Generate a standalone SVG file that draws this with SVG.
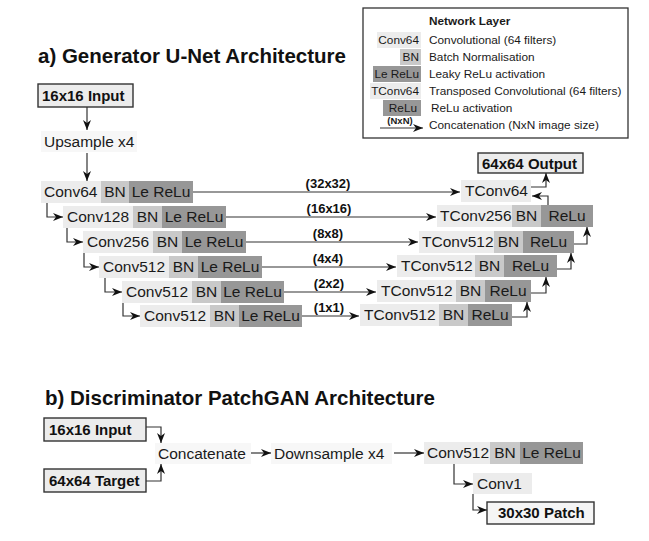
<svg xmlns="http://www.w3.org/2000/svg" width="649" height="541" viewBox="0 0 649 541">
<style>
text{font-family:"Liberation Sans",Arial,sans-serif;fill:#1a1a1a}
.t{font-size:20.5px;font-weight:bold;fill:#111}
.bx{font-size:15px;font-weight:bold;fill:#111}
.l{font-size:15.5px}
.m{font-size:15.5px;text-anchor:middle}
.sk{font-size:13px;font-weight:bold;text-anchor:middle;fill:#111}
.lg{font-size:11.8px}
.lgr{font-size:11.8px;text-anchor:end}
.c1{fill:#ececec}
.c2{fill:#c9c9c9}
.c3{fill:#979797}
.cb{fill:#f7f7f7}
.io{fill:#ececec;stroke:#333;stroke-width:1.4}
.ln{fill:none;stroke:#333;stroke-width:1.2}
</style>
<defs>
<marker id="ah" viewBox="0 0 10 8" refX="10" refY="4" markerWidth="11" markerHeight="8" markerUnits="userSpaceOnUse" orient="auto">
<path d="M0,0 L10,4 L0,8 L3,4 z" fill="#111"/>
</marker>
</defs>

<text class="t" x="38" y="63">a) Generator U-Net Architecture</text>
<text class="t" x="45" y="405">b) Discriminator PatchGAN Architecture</text>

<g id="legend">
<rect x="363" y="8" width="265" height="130" fill="#fff" stroke="#333" stroke-width="1.3"/>
<text class="lg" x="429" y="25" font-weight="bold">Network Layer</text>
<rect class="c1" x="377" y="32" width="44" height="16"/>
<text class="lgr" x="419" y="44">Conv64</text>
<text class="lg" x="429" y="44">Convolutional (64 filters)</text>
<rect class="c2" x="400" y="49" width="21" height="16"/>
<text class="lgr" x="419" y="61">BN</text>
<text class="lg" x="429" y="61">Batch Normalisation</text>
<rect class="c3" x="373" y="66" width="48" height="16"/>
<text class="lgr" x="419" y="78">Le ReLu</text>
<text class="lg" x="429" y="78">Leaky ReLu activation</text>
<rect class="c1" x="370" y="83" width="51" height="16"/>
<text class="lgr" x="419" y="95">TConv64</text>
<text class="lg" x="429" y="95">Transposed Convolutional (64 filters)</text>
<rect class="c3" x="383" y="100" width="38" height="16"/>
<text class="lgr" x="417" y="112">ReLu</text>
<text class="lg" x="431" y="112">ReLu activation</text>
<line class="ln" x1="380" y1="128" x2="423" y2="128" marker-end="url(#ah)"/>
<text x="400" y="124" font-size="9.5" font-weight="bold" text-anchor="middle">(NxN)</text>
<text class="lg" x="429" y="129">Concatenation (NxN image size)</text>
</g>

<g id="gen_input">
<rect class="io" x="38" y="84" width="95" height="23"/>
<text class="bx" x="42" y="101">16x16 Input</text>
</g>
<g id="upsample">
<rect class="cb" x="41" y="131" width="96" height="21"/>
<text class="l" x="44" y="147">Upsample x4</text>
</g>

<g id="enc1">
<rect class="c1" x="41" y="181" width="60" height="22"/><rect class="c2" x="101" y="181" width="28" height="22"/><rect class="c3" x="129" y="181" width="64" height="22"/>
<text class="l" x="44" y="197">Conv64</text><text class="m" x="115" y="197">BN</text><text class="m" x="161" y="197">Le ReLu</text>
</g>
<g id="enc2">
<rect class="c1" x="63" y="206" width="70" height="22"/><rect class="c2" x="133" y="206" width="29" height="22"/><rect class="c3" x="162" y="206" width="64" height="22"/>
<text class="l" x="67" y="222">Conv128</text><text class="m" x="147.5" y="222">BN</text><text class="m" x="194" y="222">Le ReLu</text>
</g>
<g id="enc3">
<rect class="c1" x="83" y="231" width="70" height="22"/><rect class="c2" x="153" y="231" width="29" height="22"/><rect class="c3" x="182" y="231" width="64" height="22"/>
<text class="l" x="87" y="247">Conv256</text><text class="m" x="167.5" y="247">BN</text><text class="m" x="214" y="247">Le ReLu</text>
</g>
<g id="enc4">
<rect class="c1" x="99" y="256" width="70" height="22"/><rect class="c2" x="169" y="256" width="29" height="22"/><rect class="c3" x="198" y="256" width="64" height="22"/>
<text class="l" x="103" y="272">Conv512</text><text class="m" x="183.5" y="272">BN</text><text class="m" x="230" y="272">Le ReLu</text>
</g>
<g id="enc5">
<rect class="c1" x="122" y="281" width="70" height="22"/><rect class="c2" x="192" y="281" width="29" height="22"/><rect class="c3" x="221" y="281" width="63" height="22"/>
<text class="l" x="126" y="297">Conv512</text><text class="m" x="206.5" y="297">BN</text><text class="m" x="252.5" y="297">Le ReLu</text>
</g>
<g id="enc6">
<rect class="c1" x="140" y="305" width="70" height="22"/><rect class="c2" x="210" y="305" width="29" height="22"/><rect class="c3" x="239" y="305" width="63" height="22"/>
<text class="l" x="144" y="321">Conv512</text><text class="m" x="224.5" y="321">BN</text><text class="m" x="270.5" y="321">Le ReLu</text>
</g>

<g id="dec1">
<rect class="c1" x="461" y="180" width="70" height="22"/>
<text class="l" x="465" y="196">TConv64</text>
</g>
<g id="dec2">
<rect class="c1" x="437" y="205" width="75" height="22"/><rect class="c2" x="512" y="205" width="29" height="22"/><rect class="c3" x="541" y="205" width="52" height="22"/>
<text class="l" x="440" y="221">TConv256</text><text class="m" x="526.5" y="221">BN</text><text class="m" x="567" y="221">ReLu</text>
</g>
<g id="dec3">
<rect class="c1" x="419" y="231" width="75" height="22"/><rect class="c2" x="494" y="231" width="29" height="22"/><rect class="c3" x="523" y="231" width="51" height="22"/>
<text class="l" x="422" y="247">TConv512</text><text class="m" x="508.5" y="247">BN</text><text class="m" x="548.5" y="247">ReLu</text>
</g>
<g id="dec4">
<rect class="c1" x="397" y="255" width="78" height="22"/><rect class="c2" x="475" y="255" width="29" height="22"/><rect class="c3" x="504" y="255" width="53" height="22"/>
<text class="l" x="401" y="271">TConv512</text><text class="m" x="489.5" y="271">BN</text><text class="m" x="530.5" y="271">ReLu</text>
</g>
<g id="dec5">
<rect class="c1" x="377" y="280" width="79" height="22"/><rect class="c2" x="456" y="280" width="29" height="22"/><rect class="c3" x="485" y="280" width="46" height="22"/>
<text class="l" x="381" y="296">TConv512</text><text class="m" x="470.5" y="296">BN</text><text class="m" x="508" y="296">ReLu</text>
</g>
<g id="dec6">
<rect class="c1" x="360" y="304" width="79" height="22"/><rect class="c2" x="439" y="304" width="29" height="22"/><rect class="c3" x="468" y="304" width="44" height="22"/>
<text class="l" x="364" y="320">TConv512</text><text class="m" x="453.5" y="320">BN</text><text class="m" x="490" y="320">ReLu</text>
</g>

<g id="gen_output">
<rect class="io" x="478" y="153" width="105" height="20"/>
<text class="bx" x="482" y="169">64x64 Output</text>
</g>

<g id="disc_input">
<rect class="io" x="44" y="418" width="102" height="23"/>
<text class="bx" x="49" y="435">16x16 Input</text>
</g>
<g id="disc_target">
<rect class="io" x="44" y="469" width="102" height="23"/>
<text class="bx" x="49" y="486">64x64 Target</text>
</g>
<g id="concat">
<rect class="cb" x="155" y="443" width="96" height="21"/>
<text class="l" x="158" y="459">Concatenate</text>
</g>
<g id="downsample">
<rect class="cb" x="271" y="443" width="121" height="21"/>
<text class="l" x="274" y="459">Downsample x4</text>
</g>
<g id="disc_conv512">
<rect class="c1" x="424" y="442" width="66" height="22"/><rect class="c2" x="490" y="442" width="30" height="22"/><rect class="c3" x="520" y="442" width="63" height="22"/>
<text class="l" x="427" y="458">Conv512</text><text class="m" x="505" y="458">BN</text><text class="m" x="551.5" y="458">Le ReLu</text>
</g>
<g id="conv1">
<rect class="c1" x="473" y="473" width="59" height="21"/>
<text class="l" x="477" y="489">Conv1</text>
</g>
<g id="patch">
<rect class="io" x="487" y="502" width="107" height="22" style="fill:#f5f5f5"/>
<text class="bx" x="498" y="518">30x30 Patch</text>
</g>

<g id="connectors">
<path class="ln" d="M87,107 V130" marker-end="url(#ah)"/>
<path class="ln" d="M87,153 V181" marker-end="url(#ah)"/>
<path class="ln" d="M47,203 V217 H63" marker-end="url(#ah)"/>
<path class="ln" d="M67,228 V242 H83" marker-end="url(#ah)"/>
<path class="ln" d="M84,253 V267 H99" marker-end="url(#ah)"/>
<path class="ln" d="M105,278 V292 H122" marker-end="url(#ah)"/>
<path class="ln" d="M123,303 V316 H140" marker-end="url(#ah)"/>

<path class="ln" d="M193,192 H460" marker-end="url(#ah)"/>
<path class="ln" d="M226,217 H436" marker-end="url(#ah)"/>
<path class="ln" d="M246,242 H418" marker-end="url(#ah)"/>
<path class="ln" d="M262,267 H396" marker-end="url(#ah)"/>
<path class="ln" d="M284,292 H376" marker-end="url(#ah)"/>
<path class="ln" d="M302,316 H359" marker-end="url(#ah)"/>
<text class="sk" x="328" y="188">(32x32)</text>
<text class="sk" x="329" y="213">(16x16)</text>
<text class="sk" x="328" y="238">(8x8)</text>
<text class="sk" x="328" y="263">(4x4)</text>
<text class="sk" x="329" y="288">(2x2)</text>
<text class="sk" x="329" y="312">(1x1)</text>

<path class="ln" d="M512,317 H527 V302" marker-end="url(#ah)"/>
<path class="ln" d="M531,293 H546 V277" marker-end="url(#ah)"/>
<path class="ln" d="M557,269 H571 V253" marker-end="url(#ah)"/>
<path class="ln" d="M574,244 H587 V227" marker-end="url(#ah)"/>
<path class="ln" d="M548,205 V196 H532" marker-end="url(#ah)"/>
<path class="ln" d="M531,187 H546 V173" marker-end="url(#ah)"/>

<path class="ln" d="M146,427 H161 V443" marker-end="url(#ah)"/>
<path class="ln" d="M146,481 H161 V464" marker-end="url(#ah)"/>
<path class="ln" d="M251,453 H271" marker-end="url(#ah)"/>
<path class="ln" d="M394,453 H424" marker-end="url(#ah)"/>
<path class="ln" d="M454,464 V484 H473" marker-end="url(#ah)"/>
<path class="ln" d="M473,494 V510 H487" marker-end="url(#ah)"/>
</g>
</svg>
